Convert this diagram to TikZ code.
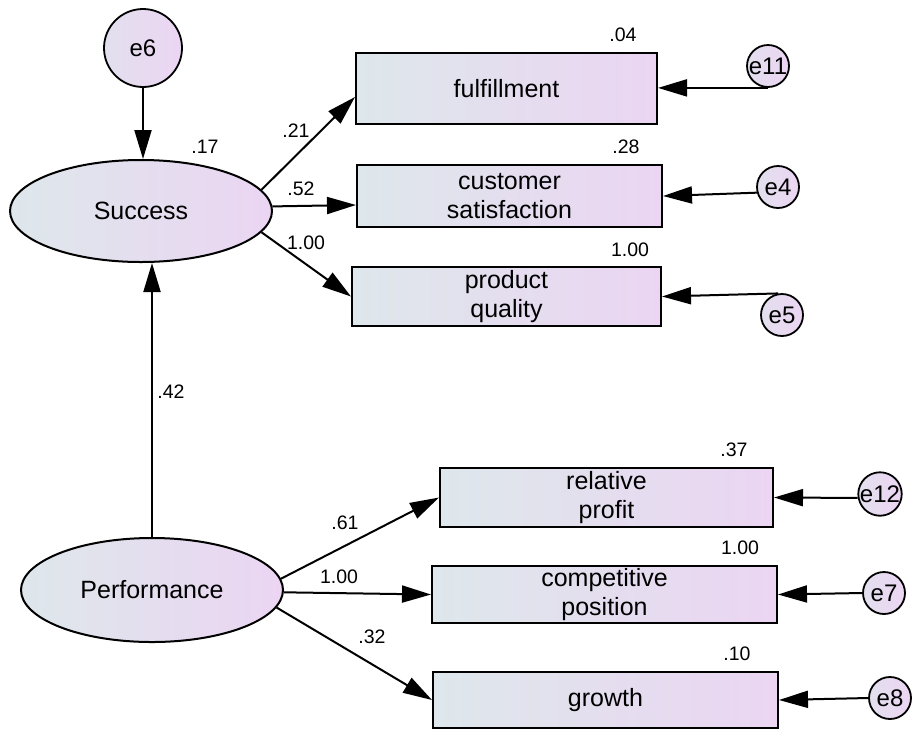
\documentclass[tikz,border=0pt]{standalone}
\usepackage{fontspec}
\setmainfont{Liberation Sans}
\usetikzlibrary{shapes.geometric,arrows.meta}
\definecolor{shadeL}{RGB}{222,231,235}
\definecolor{shadeR}{RGB}{235,213,243}
\begin{document}
\begin{tikzpicture}[x=1pt,y=-1pt,
  obs/.style={draw=black, line width=2pt, rectangle, left color=shadeL, right color=shadeR,
    inner sep=0pt, align=center, font=\fontsize{25}{29}\selectfont},
  lat/.style={draw=black, line width=2pt, ellipse, left color=shadeL, right color=shadeR,
    inner sep=0pt, font=\fontsize{25}{29}\selectfont},
  err/.style={draw=black, line width=1.8pt, circle, left color=shadeL!60!shadeR, right color=shadeR,
    inner sep=0pt, font=\fontsize{24}{28}\selectfont},
  smallerr/.style={err, minimum size=42pt},
  regpath/.style={line width=2pt, -{Triangle[length=29pt,width=17pt]}},
  coef/.style={inner sep=0pt, font=\fontsize{19.5}{22}\selectfont}]
\useasboundingbox (0,0) rectangle (912,729);

% latent variables and their disturbance
\node[err, minimum size=78pt] (e6) at (143,48) {e6};
\node[lat, minimum width=262pt, minimum height=102pt] (succ) at (141,211) {Success};
\node[lat, minimum width=262pt, minimum height=104pt] (perf) at (152,590) {Performance};

% indicators of Success
\node[obs, minimum width=301pt, minimum height=71pt] (ful) at (506.5,88.5) {fulfillment};
\node[obs, minimum width=305pt, minimum height=62pt] (cs) at (509.5,196) {customer\\satisfaction};
\node[obs, minimum width=309pt, minimum height=59pt] (pq) at (506.5,296.5) {product\\quality};

% indicators of Performance
\node[obs, minimum width=333pt, minimum height=59pt] (rp) at (606.5,497.5) {relative\\profit};
\node[obs, minimum width=345pt, minimum height=57pt] (cp) at (604.5,594.5) {competitive\\position};
\node[obs, minimum width=345pt, minimum height=56pt] (gr) at (605.5,700) {growth};

% measurement errors
\node[smallerr] (e11) at (768,66) {e11};
\node[smallerr] (e4) at (778,187) {e4};
\node[smallerr] (e5) at (782,315) {e5};
\node[smallerr] (e12) at (880,494) {e12};
\node[smallerr] (e7) at (884,593) {e7};
\node[smallerr] (e8) at (890,698) {e8};

% structural paths
\draw[regpath] (e6.south) -- (e6.south |- succ.north);
\draw[regpath] (perf.north) -- (perf.north |- succ.south);

% loadings
\draw[regpath] (succ.10) -- ([yshift=-8.5pt]ful.west);
\draw[regpath] (succ.2) -- ([yshift=-9pt]cs.west);
\draw[regpath] (succ.-10) -- (pq.west);
\draw[regpath] (perf.5) -- (rp.west);
\draw[regpath] (perf.-1) -- (cp.west);
\draw[regpath] (perf.-8) -- (gr.west);

% error paths
\draw[regpath] (e11.south) -- (e11.south -| ful.east);
\draw[regpath] (e4.195) -- (cs.east);
\draw[regpath] (e5.100) -- (pq.east);
\draw[regpath] (e12.190) -- (rp.east);
\draw[regpath] (e7.west) -- (cp.east);
\draw[regpath] (e8.west) -- (gr.east);

% estimates
\node[coef] (r17) at (205,147) {.17};
\node[coef] (b21) at (296,131) {.21};
\node[coef] (b52) at (301,189) {.52};
\node[coef] (b100a) at (306,243) {1.00};
\node[coef] (r04) at (623,35) {.04};
\node[coef] (r28) at (626,147) {.28};
\node[coef] (r100a) at (630,250) {1.00};
\node[coef] (b42) at (171,392) {.42};
\node[coef] (b61) at (345,523) {.61};
\node[coef] (b100b) at (339,577) {1.00};
\node[coef] (b32) at (372,637) {.32};
\node[coef] (r37) at (734,450) {.37};
\node[coef] (r100b) at (740,548) {1.00};
\node[coef] (r10) at (737,654) {.10};
\end{tikzpicture}
\end{document}
